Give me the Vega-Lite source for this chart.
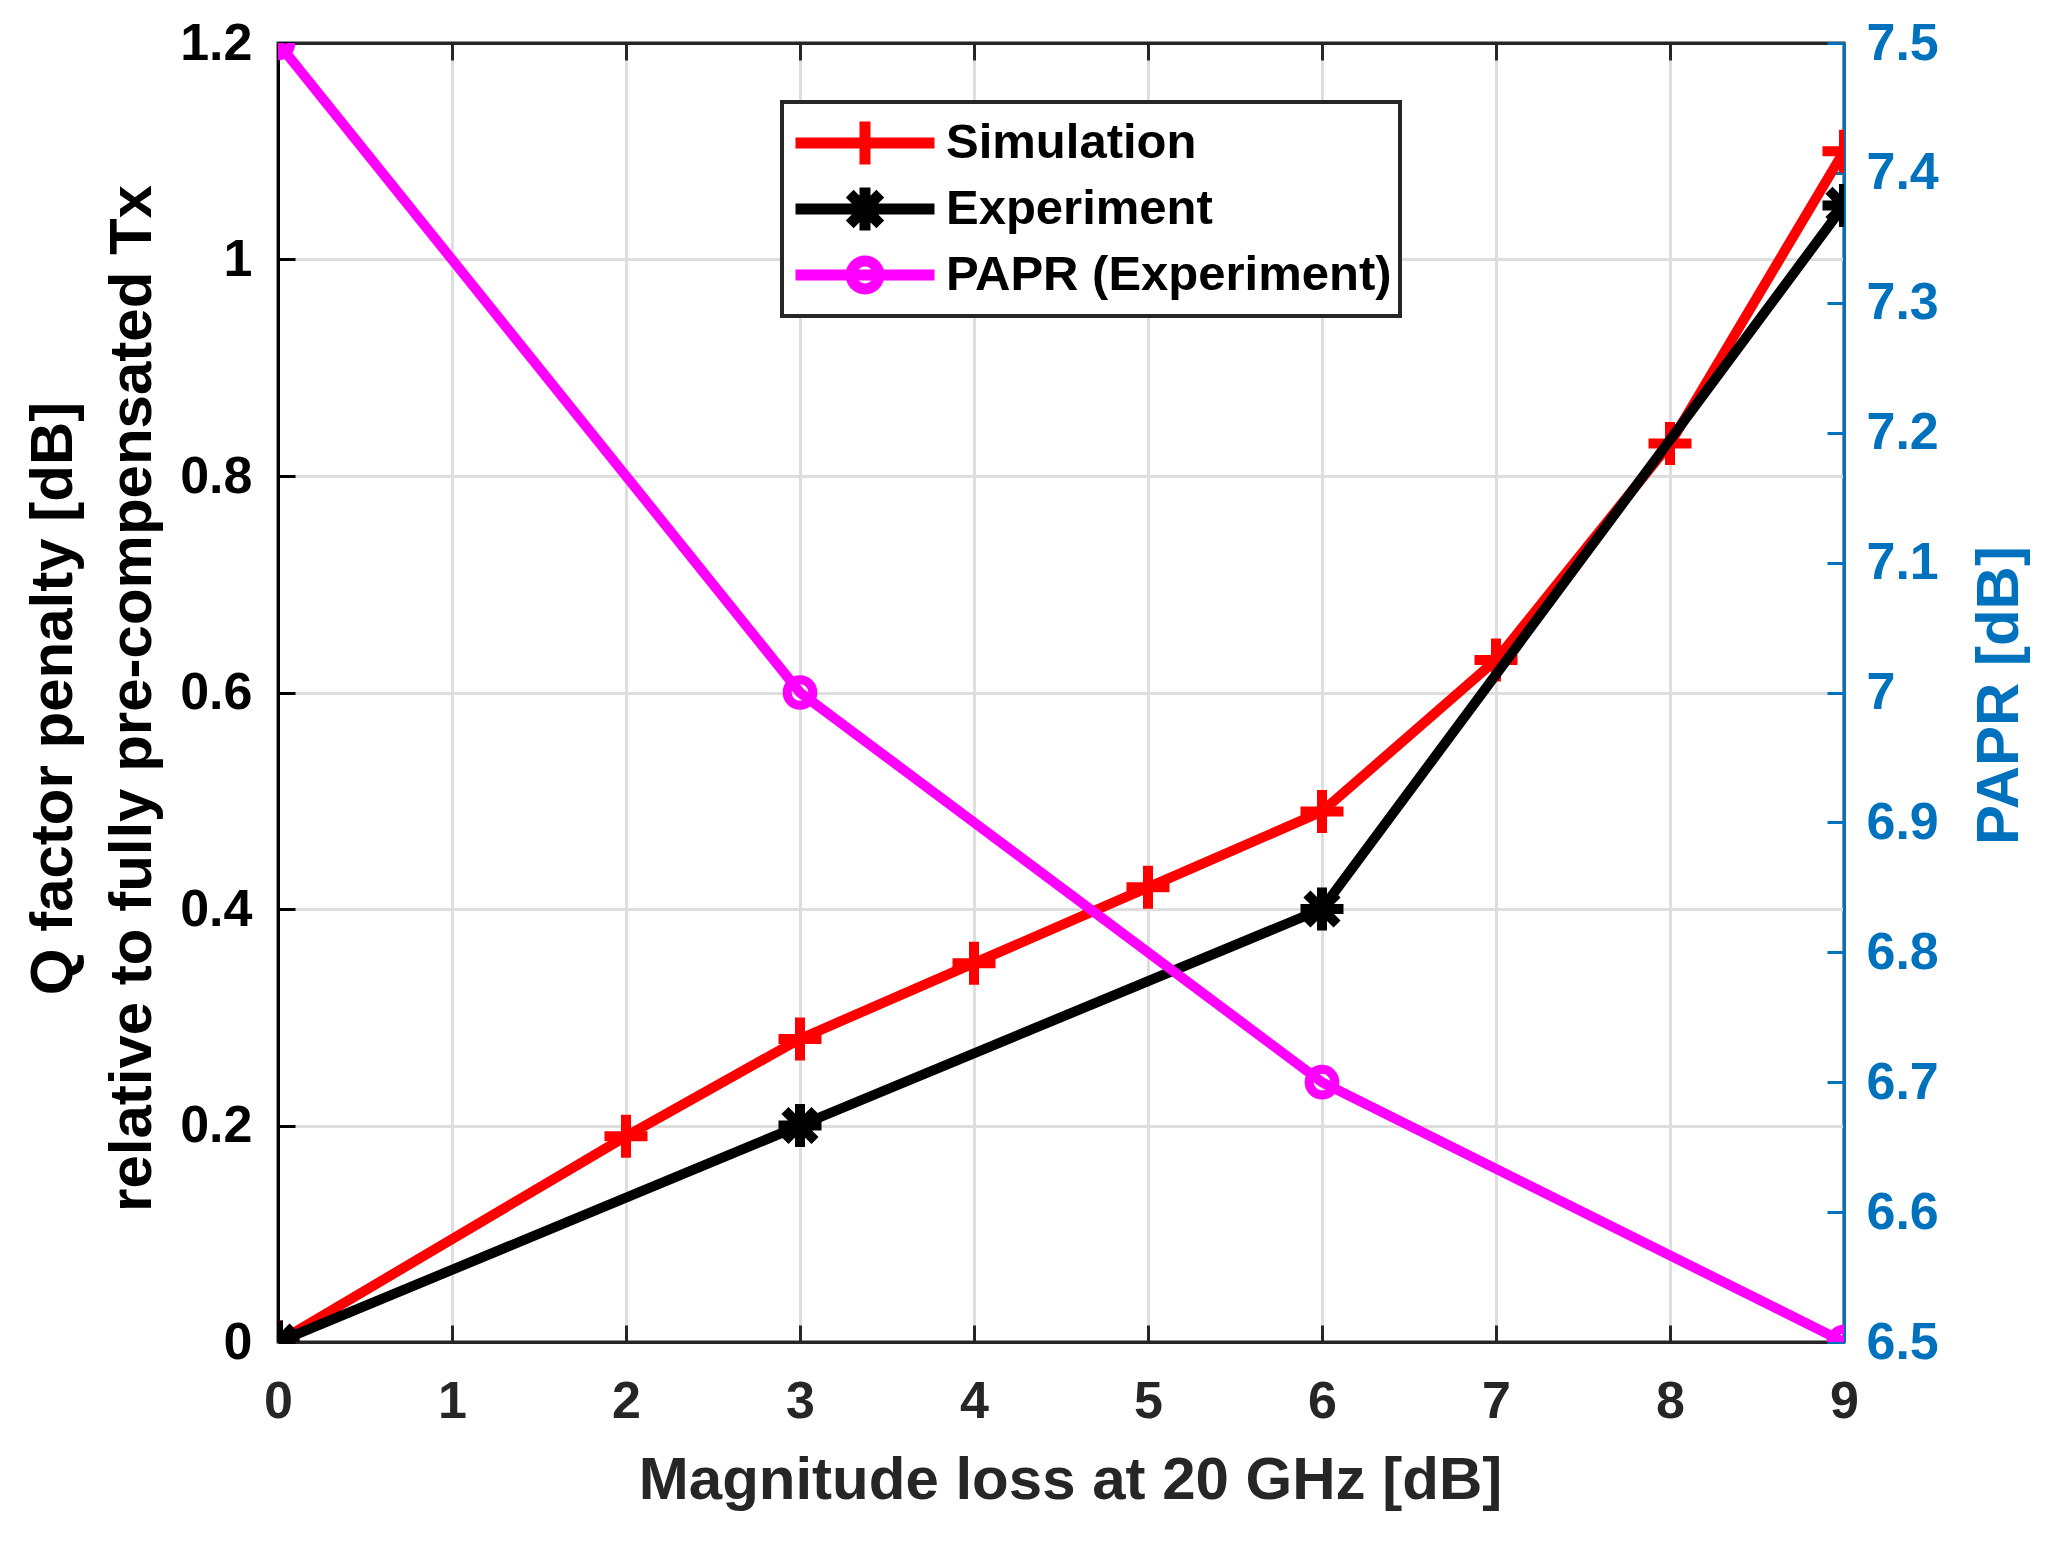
{
  "$schema": "https://vega.github.io/schema/vega-lite/v6.json",
  "width": 1566,
  "height": 1299,
  "autosize": "none",
  "padding": {"left": 278, "top": 43, "right": 219, "bottom": 203},
  "background": "white",
  "config": {
    "font": "Liberation Sans",
    "view": {"stroke": "#262626", "strokeWidth": 3}
  },
  "data": {
    "values": [
      {"series": "Simulation", "x": 0, "v": 0},
      {"series": "Simulation", "x": 2, "v": 0.19},
      {"series": "Simulation", "x": 3, "v": 0.28},
      {"series": "Simulation", "x": 4, "v": 0.35},
      {"series": "Simulation", "x": 5, "v": 0.42},
      {"series": "Simulation", "x": 6, "v": 0.49},
      {"series": "Simulation", "x": 7, "v": 0.63},
      {"series": "Simulation", "x": 8, "v": 0.83},
      {"series": "Simulation", "x": 9, "v": 1.1},
      {"series": "Experiment", "x": 0, "v": 0},
      {"series": "Experiment", "x": 3, "v": 0.2},
      {"series": "Experiment", "x": 6, "v": 0.4},
      {"series": "Experiment", "x": 9, "v": 1.05},
      {"series": "PAPR (Experiment)", "x": 0, "v": 7.5},
      {"series": "PAPR (Experiment)", "x": 3, "v": 7.0},
      {"series": "PAPR (Experiment)", "x": 6, "v": 6.7},
      {"series": "PAPR (Experiment)", "x": 9, "v": 6.5}
    ]
  },
  "layer": [
    {
      "layer": [
        {
          "transform": [{"filter": "datum.series === 'Simulation'"}],
          "mark": {"type": "line", "strokeWidth": 10, "clip": true},
          "encoding": {
            "x": {
              "field": "x", "type": "quantitative",
              "scale": {"domain": [0, 9], "nice": false, "zero": false},
              "axis": {
                "orient": "bottom",
                "values": [0, 1, 2, 3, 4, 5, 6, 7, 8, 9],
                "format": "d",
                "grid": true, "gridColor": "#dedede", "gridWidth": 3,
                "domainColor": "#262626", "domainWidth": 3,
                "tickColor": "#262626", "tickWidth": 3, "tickSize": -17,
                "labelFont": "Liberation Sans", "labelFontSize": 52, "labelFontWeight": "bold",
                "labelColor": "#262626", "labelPadding": 51, "labelFlush": false, "labelOverlap": false,
                "title": "Magnitude loss at 20 GHz [dB]",
                "titleFont": "Liberation Sans", "titleFontSize": 60, "titleFontWeight": "bold",
                "titleColor": "#262626", "titleX": 792, "titleY": 156,
                "titleBaseline": "alphabetic", "titleAlign": "center"
              }
            },
            "y": {
              "field": "v", "type": "quantitative",
              "scale": {"domain": [0, 1.2], "nice": false},
              "axis": {
                "orient": "left",
                "values": [0, 0.2, 0.4, 0.6, 0.8, 1, 1.2],
                "format": "~g",
                "grid": true, "gridColor": "#dedede", "gridWidth": 3,
                "domainColor": "#000000", "domainWidth": 3,
                "tickColor": "#000000", "tickWidth": 3, "tickSize": -17,
                "labelFont": "Liberation Sans", "labelFontSize": 52, "labelFontWeight": "bold",
                "labelColor": "#000000", "labelPadding": 43, "labelFlush": false, "labelOverlap": false,
                "title": ["Q factor penalty [dB]", "relative to fully pre-compensated Tx"],
                "titleFont": "Liberation Sans", "titleFontSize": 60, "titleFontWeight": "bold",
                "titleColor": "#000000", "titleAngle": 270, "titleLineHeight": 79,
                "titleX": -207, "titleY": 655,
                "titleBaseline": "alphabetic", "titleAlign": "center"
              }
            },
            "color": {
              "field": "series", "type": "nominal",
              "scale": {
                "domain": ["Simulation", "Experiment", "PAPR (Experiment)"],
                "range": ["#ff0000", "#000000", "#ff00ff"]
              },
              "legend": {
                "orient": "none", "legendX": 504, "legendY": 59,
                "title": null,
                "symbolSize": 19321, "symbolStrokeWidth": 11, "clipHeight": 66,
                "rowPadding": 0, "padding": 8, "labelOffset": 6,
                "labelFont": "Liberation Sans", "labelFontSize": 49, "labelFontWeight": "bold",
                "labelColor": "#000000", "labelLimit": 1000,
                "strokeColor": "#262626", "fillColor": "#ffffff",
                "encode": {
                  "legend": {"update": {"strokeWidth": {"value": 4}}},
                  "symbols": {
                    "update": {
                      "shape": {"signal": "datum.value === 'Simulation' ? 'M-1,0L1,0M0,-0.31L0,0.31' : datum.value === 'Experiment' ? 'M-1,0L1,0M0,-0.31L0,0.31M-0.22,-0.22L0.22,0.22M-0.22,0.22L0.22,-0.22' : 'M-1,0L1,0M0.2,0A0.2,0.2,0,1,1,-0.2,0A0.2,0.2,0,1,1,0.2,0'"},
                      "fill": {"value": "transparent"},
                      "strokeWidth": {"value": 11},
                      "opacity": {"value": 1}
                    }
                  }
                }
              }
            }
          }
        },
        {
          "transform": [{"filter": "datum.series === 'Simulation'"}],
          "mark": {"type": "point", "shape": "M-1,0L1,0M0,-1L0,1", "size": 1849, "filled": false, "strokeWidth": 10, "color": "#ff0000", "opacity": 1, "clip": true},
          "encoding": {
            "x": {"field": "x", "type": "quantitative"},
            "y": {"field": "v", "type": "quantitative"}
          }
        },
        {
          "transform": [{"filter": "datum.series === 'Experiment'"}],
          "mark": {"type": "line", "strokeWidth": 10, "color": "#000000", "clip": true},
          "encoding": {
            "x": {"field": "x", "type": "quantitative"},
            "y": {"field": "v", "type": "quantitative"}
          }
        },
        {
          "transform": [{"filter": "datum.series === 'Experiment'"}],
          "mark": {"type": "point", "shape": "M-1,0L1,0M0,-1L0,1M-0.7,-0.7L0.7,0.7M-0.7,0.7L0.7,-0.7", "size": 1849, "filled": false, "strokeWidth": 10, "color": "#000000", "opacity": 1, "clip": true},
          "encoding": {
            "x": {"field": "x", "type": "quantitative"},
            "y": {"field": "v", "type": "quantitative"}
          }
        }
      ]
    },
    {
      "layer": [
        {
          "transform": [{"filter": "datum.series === 'PAPR (Experiment)'"}],
          "mark": {"type": "line", "strokeWidth": 10, "color": "#ff00ff", "clip": true},
          "encoding": {
            "x": {
              "field": "x", "type": "quantitative",
              "axis": {
                "orient": "top",
                "values": [0, 1, 2, 3, 4, 5, 6, 7, 8, 9],
                "labels": false, "grid": false,
                "domainColor": "#262626", "domainWidth": 3,
                "tickColor": "#262626", "tickWidth": 3, "tickSize": -17,
                "title": null
              }
            },
            "y": {
              "field": "v", "type": "quantitative",
              "scale": {"domain": [6.5, 7.5], "nice": false, "zero": false},
              "axis": {
                "orient": "right",
                "values": [6.5, 6.6, 6.7, 6.8, 6.9, 7, 7.1, 7.2, 7.3, 7.4, 7.5],
                "format": "~g",
                "grid": false,
                "domainColor": "#0072BD", "domainWidth": 3,
                "tickColor": "#0072BD", "tickWidth": 3, "tickSize": -17,
                "labelFont": "Liberation Sans", "labelFontSize": 52, "labelFontWeight": "bold",
                "labelColor": "#0072BD", "labelPadding": 39, "labelFlush": false, "labelOverlap": false,
                "title": "PAPR [dB]",
                "titleFont": "Liberation Sans", "titleFontSize": 60, "titleFontWeight": "bold",
                "titleColor": "#0072BD", "titleAngle": 270,
                "titleX": 173, "titleY": 652,
                "titleBaseline": "alphabetic", "titleAlign": "center"
              }
            }
          }
        },
        {
          "transform": [{"filter": "datum.series === 'PAPR (Experiment)'"}],
          "mark": {"type": "point", "shape": "circle", "size": 660, "filled": false, "strokeWidth": 9, "color": "#ff00ff", "opacity": 1, "clip": true},
          "encoding": {
            "x": {"field": "x", "type": "quantitative"},
            "y": {"field": "v", "type": "quantitative"}
          }
        }
      ]
    }
  ],
  "resolve": {"scale": {"y": "independent"}}
}
